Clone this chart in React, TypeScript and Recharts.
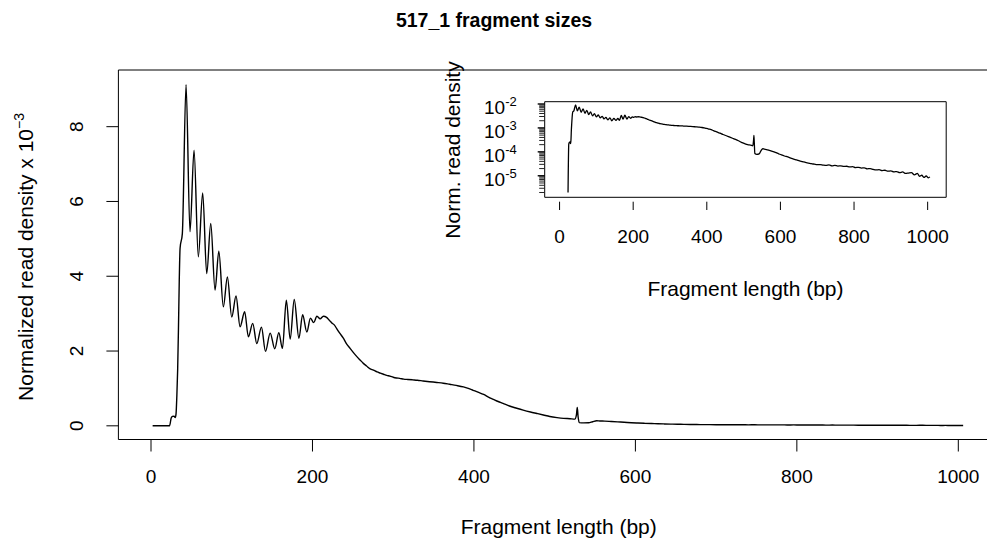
import React from 'react';
import { LineChart, Line, XAxis, YAxis, ReferenceArea } from 'recharts';

// fragment length (bp) and normalized read density (x 10^-3)
const FRAGMENT_BP = [
  2, 22, 23, 25, 26.5, 28.5, 30, 31, 32, 33, 34, 35, 36, 38.8, 43.4, 48.3, 53.3, 58.6, 64, 69,
  74, 79.3, 84, 89.6, 94.6, 100, 105.3, 110.3, 116, 120.6, 126, 131, 136.8, 141.8, 147.6, 153.3,
  158.3, 162.8, 167.6, 172.4, 177.4, 183.2, 187.8, 193, 197.5, 201.5, 205.5, 209.5, 213.5, 217.5,
  221, 224, 227, 230, 234, 238, 242, 246.6, 251, 255, 259, 263, 267, 271, 275.5, 280, 284, 288,
  292, 296, 300, 304, 308, 313, 318, 324, 330, 337, 345, 354, 362, 370, 378, 387, 393, 399, 405,
  412, 418, 424, 430, 436, 444, 453, 461, 470, 478, 486, 494, 503, 511, 519, 525, 527, 528, 529,
  530.5, 536, 542, 547, 552, 556, 562, 570, 578, 586, 595, 603, 611, 620, 628, 636, 644, 652, 660,
  668, 676, 684, 692, 700, 708, 716, 724, 732, 740, 748, 756, 764, 772, 780, 788, 796, 804, 812,
  820, 828, 836, 844, 852, 860, 868, 876, 884, 892, 900, 908, 916, 924, 932, 940, 948, 956, 964,
  972, 978, 984, 990, 996, 1002, 1006, 1010,
];
const DENSITY_E3 = [
  0, 0, 0.002, 0.21, 0.25, 0.26, 0.22, 0.32, 0.8, 1.5, 2.6, 3.9, 4.75, 5.14, 9.12, 5.19, 7.37, 4.52, 6.23, 4.07,
  5.41, 3.63, 4.67, 3.18, 3.98, 2.91, 3.47, 2.65, 3.05, 2.38, 2.74, 2.2, 2.64, 1.99, 2.48, 2.06,
  2.49, 2.07, 3.36, 2.32, 3.38, 2.34, 2.97, 2.51, 2.88, 2.76, 2.93, 2.86, 2.93, 2.9,
  2.82, 2.75, 2.7, 2.6, 2.47, 2.35, 2.2, 2.07, 1.95, 1.85, 1.76, 1.67, 1.6, 1.53, 1.49, 1.44, 1.41, 1.38,
  1.35, 1.33, 1.3, 1.28, 1.27, 1.25, 1.24, 1.23, 1.22, 1.2, 1.18, 1.16, 1.14, 1.11, 1.08, 1.04, 1.0, 0.95, 0.9,
  0.84, 0.77, 0.71, 0.65, 0.6, 0.53, 0.47, 0.42, 0.37, 0.33, 0.29, 0.25, 0.22, 0.2, 0.19, 0.18, 0.3, 0.49, 0.25,
  0.085, 0.078, 0.082, 0.11, 0.135, 0.13, 0.125, 0.115, 0.105, 0.095, 0.083, 0.074, 0.067, 0.061, 0.055, 0.05, 0.046, 0.042, 0.039,
  0.036, 0.034, 0.032, 0.0305, 0.029, 0.0295, 0.028, 0.027, 0.0285, 0.026, 0.027, 0.0255, 0.026, 0.0245, 0.025, 0.0235, 0.024, 0.022,
  0.0225, 0.021, 0.0215, 0.0195, 0.02, 0.0185, 0.0175, 0.018, 0.0165, 0.017, 0.0155, 0.016, 0.0145, 0.015, 0.0135, 0.0145, 0.0125, 0.013, 0.0135,
  0.011, 0.0125, 0.0095, 0.0105, 0.0085, 0.0098, 0.0082, 0.009,
];

const TITLE = '517_1 fragment sizes';
const X_LABEL = 'Fragment length (bp)';
const MAIN_Y_LABEL = 'Normalized read density x 10';
const INSET_Y_LABEL = 'Norm. read density';

const X_TICKS = [0, 200, 400, 600, 800, 1000];
const MAIN_Y_TICKS = [0, 2, 4, 6, 8];
const INSET_DECADES = [-5, -4, -3, -2];
const INSET_MINOR_DECADES = [-6, -5, -4, -3];
const INSET_MINOR_STEPS = [2, 3, 4, 5, 6, 7, 8, 9];

const X_DOMAIN: [number, number] = [-40.4, 1050.4];
const MAIN_Y_DOMAIN: [number, number] = [-0.366, 9.516];
const INSET_Y_DOMAIN: [number, number] = [Math.pow(10, -5.9), Math.pow(10, -1.904)];

const FONT = '"Liberation Sans", Arial, Helvetica, sans-serif';
const INK = '#000';

const mainData = FRAGMENT_BP.map((bp, i) => ({ bp, d: DENSITY_E3[i] }));
const insetData = FRAGMENT_BP.map((bp, i) => ({ bp, v: DENSITY_E3[i] * 1e-3 })).filter((r) => r.v > 0);

const insetMajor = INSET_DECADES.map((e) => Math.pow(10, e));
const insetMinor = INSET_MINOR_DECADES.flatMap((e) => INSET_MINOR_STEPS.map((k) => k * Math.pow(10, e))).filter(
  (v) => v > INSET_Y_DOMAIN[0] && v < INSET_Y_DOMAIN[1],
);
const insetTicks = [...insetMajor, ...insetMinor].sort((a, b) => a - b);

function MainXTick({ x, y, payload }: any) {
  return (
    <g>
      <line x1={x} x2={x} y1={y} y2={y + 12} stroke={INK} />
      <text x={x} y={y + 43.5} textAnchor="middle" fontSize={19} fontFamily={FONT} fill={INK}>
        {payload.value}
      </text>
    </g>
  );
}

function MainYTick({ x, y, payload }: any) {
  return (
    <g>
      <line x1={x - 12} x2={x} y1={y} y2={y} stroke={INK} />
      <text
        transform={`translate(${x - 42.4},${y}) rotate(-90)`}
        x={0}
        y={6.8}
        textAnchor="middle"
        fontSize={19}
        fontFamily={FONT}
        fill={INK}
      >
        {payload.value}
      </text>
    </g>
  );
}

function InsetXTick({ x, y, payload }: any) {
  return (
    <g>
      <line x1={x} x2={x} y1={y + 4.4} y2={y + 12.7} stroke={INK} />
      <text x={x} y={y + 46} textAnchor="middle" fontSize={19} fontFamily={FONT} fill={INK}>
        {payload.value}
      </text>
    </g>
  );
}

function InsetYTick({ x, y, payload }: any) {
  const idx = insetMajor.findIndex((m) => Math.abs(m - payload.value) / m < 1e-6);
  if (idx < 0) {
    return <line x1={x - 5.5} x2={x} y1={y} y2={y} stroke="#222" strokeWidth={1} />;
  }
  return (
    <g>
      <line x1={x - 7} x2={x} y1={y} y2={y} stroke={INK} strokeWidth={1.4} />
      <text x={x - 28} y={y + 10} textAnchor="end" fontSize={19} fontFamily={FONT} fill={INK}>
        10
        <tspan dy={-8} fontSize={13}>
          {INSET_DECADES[idx]}
        </tspan>
      </text>
    </g>
  );
}

export default function App() {
  return (
    <div
      style={{
        position: 'absolute',
        left: 0,
        top: 0,
        width: 987,
        height: 546,
        overflow: 'hidden',
        background: '#fff',
        fontFamily: FONT,
      }}
    >
      <div style={{ position: 'absolute', left: 0, top: 0 }}>
        <LineChart width={1000} height={546} data={mainData} margin={{ top: 70, right: 1, bottom: 0, left: 0 }}>
          <XAxis
            dataKey="bp"
            type="number"
            domain={X_DOMAIN}
            ticks={X_TICKS}
            interval={0}
            height={106.5}
            axisLine={false}
            tickLine={false}
            tickSize={0}
            tickMargin={0}
            tick={(p: any) => <MainXTick {...p} />}
            allowDataOverflow
          />
          <YAxis
            type="number"
            domain={MAIN_Y_DOMAIN}
            ticks={MAIN_Y_TICKS}
            interval={0}
            width={118.4}
            axisLine={false}
            tickLine={false}
            tickSize={0}
            tickMargin={0}
            tick={(p: any) => <MainYTick {...p} />}
            allowDataOverflow
          />
          <ReferenceArea
            x1={X_DOMAIN[0]}
            x2={X_DOMAIN[1]}
            y1={MAIN_Y_DOMAIN[0]}
            y2={MAIN_Y_DOMAIN[1]}
            fill="none"
            stroke={INK}
            strokeWidth={1}
          />
          <Line
            type="monotone"
            dataKey="d"
            stroke={INK}
            strokeWidth={1.4}
            dot={false}
            isAnimationActive={false}
          />
        </LineChart>
      </div>

      <div style={{ position: 'absolute', left: 430, top: 50 }}>
        <LineChart width={530} height={260} data={insetData} margin={{ top: 51.7, right: 13.8, bottom: 0, left: 0 }}>
          <XAxis
            dataKey="bp"
            type="number"
            domain={X_DOMAIN}
            ticks={X_TICKS}
            interval={0}
            height={112.7}
            axisLine={false}
            tickLine={false}
            tickSize={0}
            tickMargin={0}
            tick={(p: any) => <InsetXTick {...p} />}
            allowDataOverflow
          />
          <YAxis
            type="number"
            scale="log"
            domain={INSET_Y_DOMAIN}
            ticks={insetTicks}
            interval={0}
            width={114.7}
            axisLine={false}
            tickLine={false}
            tickSize={0}
            tickMargin={0}
            tick={(p: any) => <InsetYTick {...p} />}
            allowDataOverflow
          />
          <ReferenceArea
            x1={X_DOMAIN[0]}
            x2={X_DOMAIN[1]}
            y1={INSET_Y_DOMAIN[0]}
            y2={INSET_Y_DOMAIN[1]}
            fill="none"
            stroke={INK}
            strokeWidth={1}
          />
          <Line
            type="monotone"
            dataKey="v"
            stroke={INK}
            strokeWidth={1.3}
            dot={false}
            isAnimationActive={false}
          />
        </LineChart>
      </div>

      <svg width={987} height={546} style={{ position: 'absolute', left: 0, top: 0, pointerEvents: 'none' }}>
        <text x={494} y={27} textAnchor="middle" fontSize={19.5} fontWeight="bold" fontFamily={FONT} fill={INK}>
          {TITLE}
        </text>
        <text x={558.7} y={533.5} textAnchor="middle" fontSize={21} fontFamily={FONT} fill={INK}>
          {X_LABEL}
        </text>
        <text
          transform="translate(25,257) rotate(-90)"
          x={0}
          y={7.5}
          textAnchor="middle"
          fontSize={21}
          fontFamily={FONT}
          fill={INK}
        >
          {MAIN_Y_LABEL}
          <tspan dy={-9} fontSize={14}>
            −3
          </tspan>
        </text>
        <text
          transform="translate(452,150) rotate(-90)"
          x={0}
          y={7.5}
          textAnchor="middle"
          fontSize={21}
          fontFamily={FONT}
          fill={INK}
        >
          {INSET_Y_LABEL}
        </text>
        <text x={745.5} y={296} textAnchor="middle" fontSize={21} fontFamily={FONT} fill={INK}>
          {X_LABEL}
        </text>
      </svg>
    </div>
  );
}
